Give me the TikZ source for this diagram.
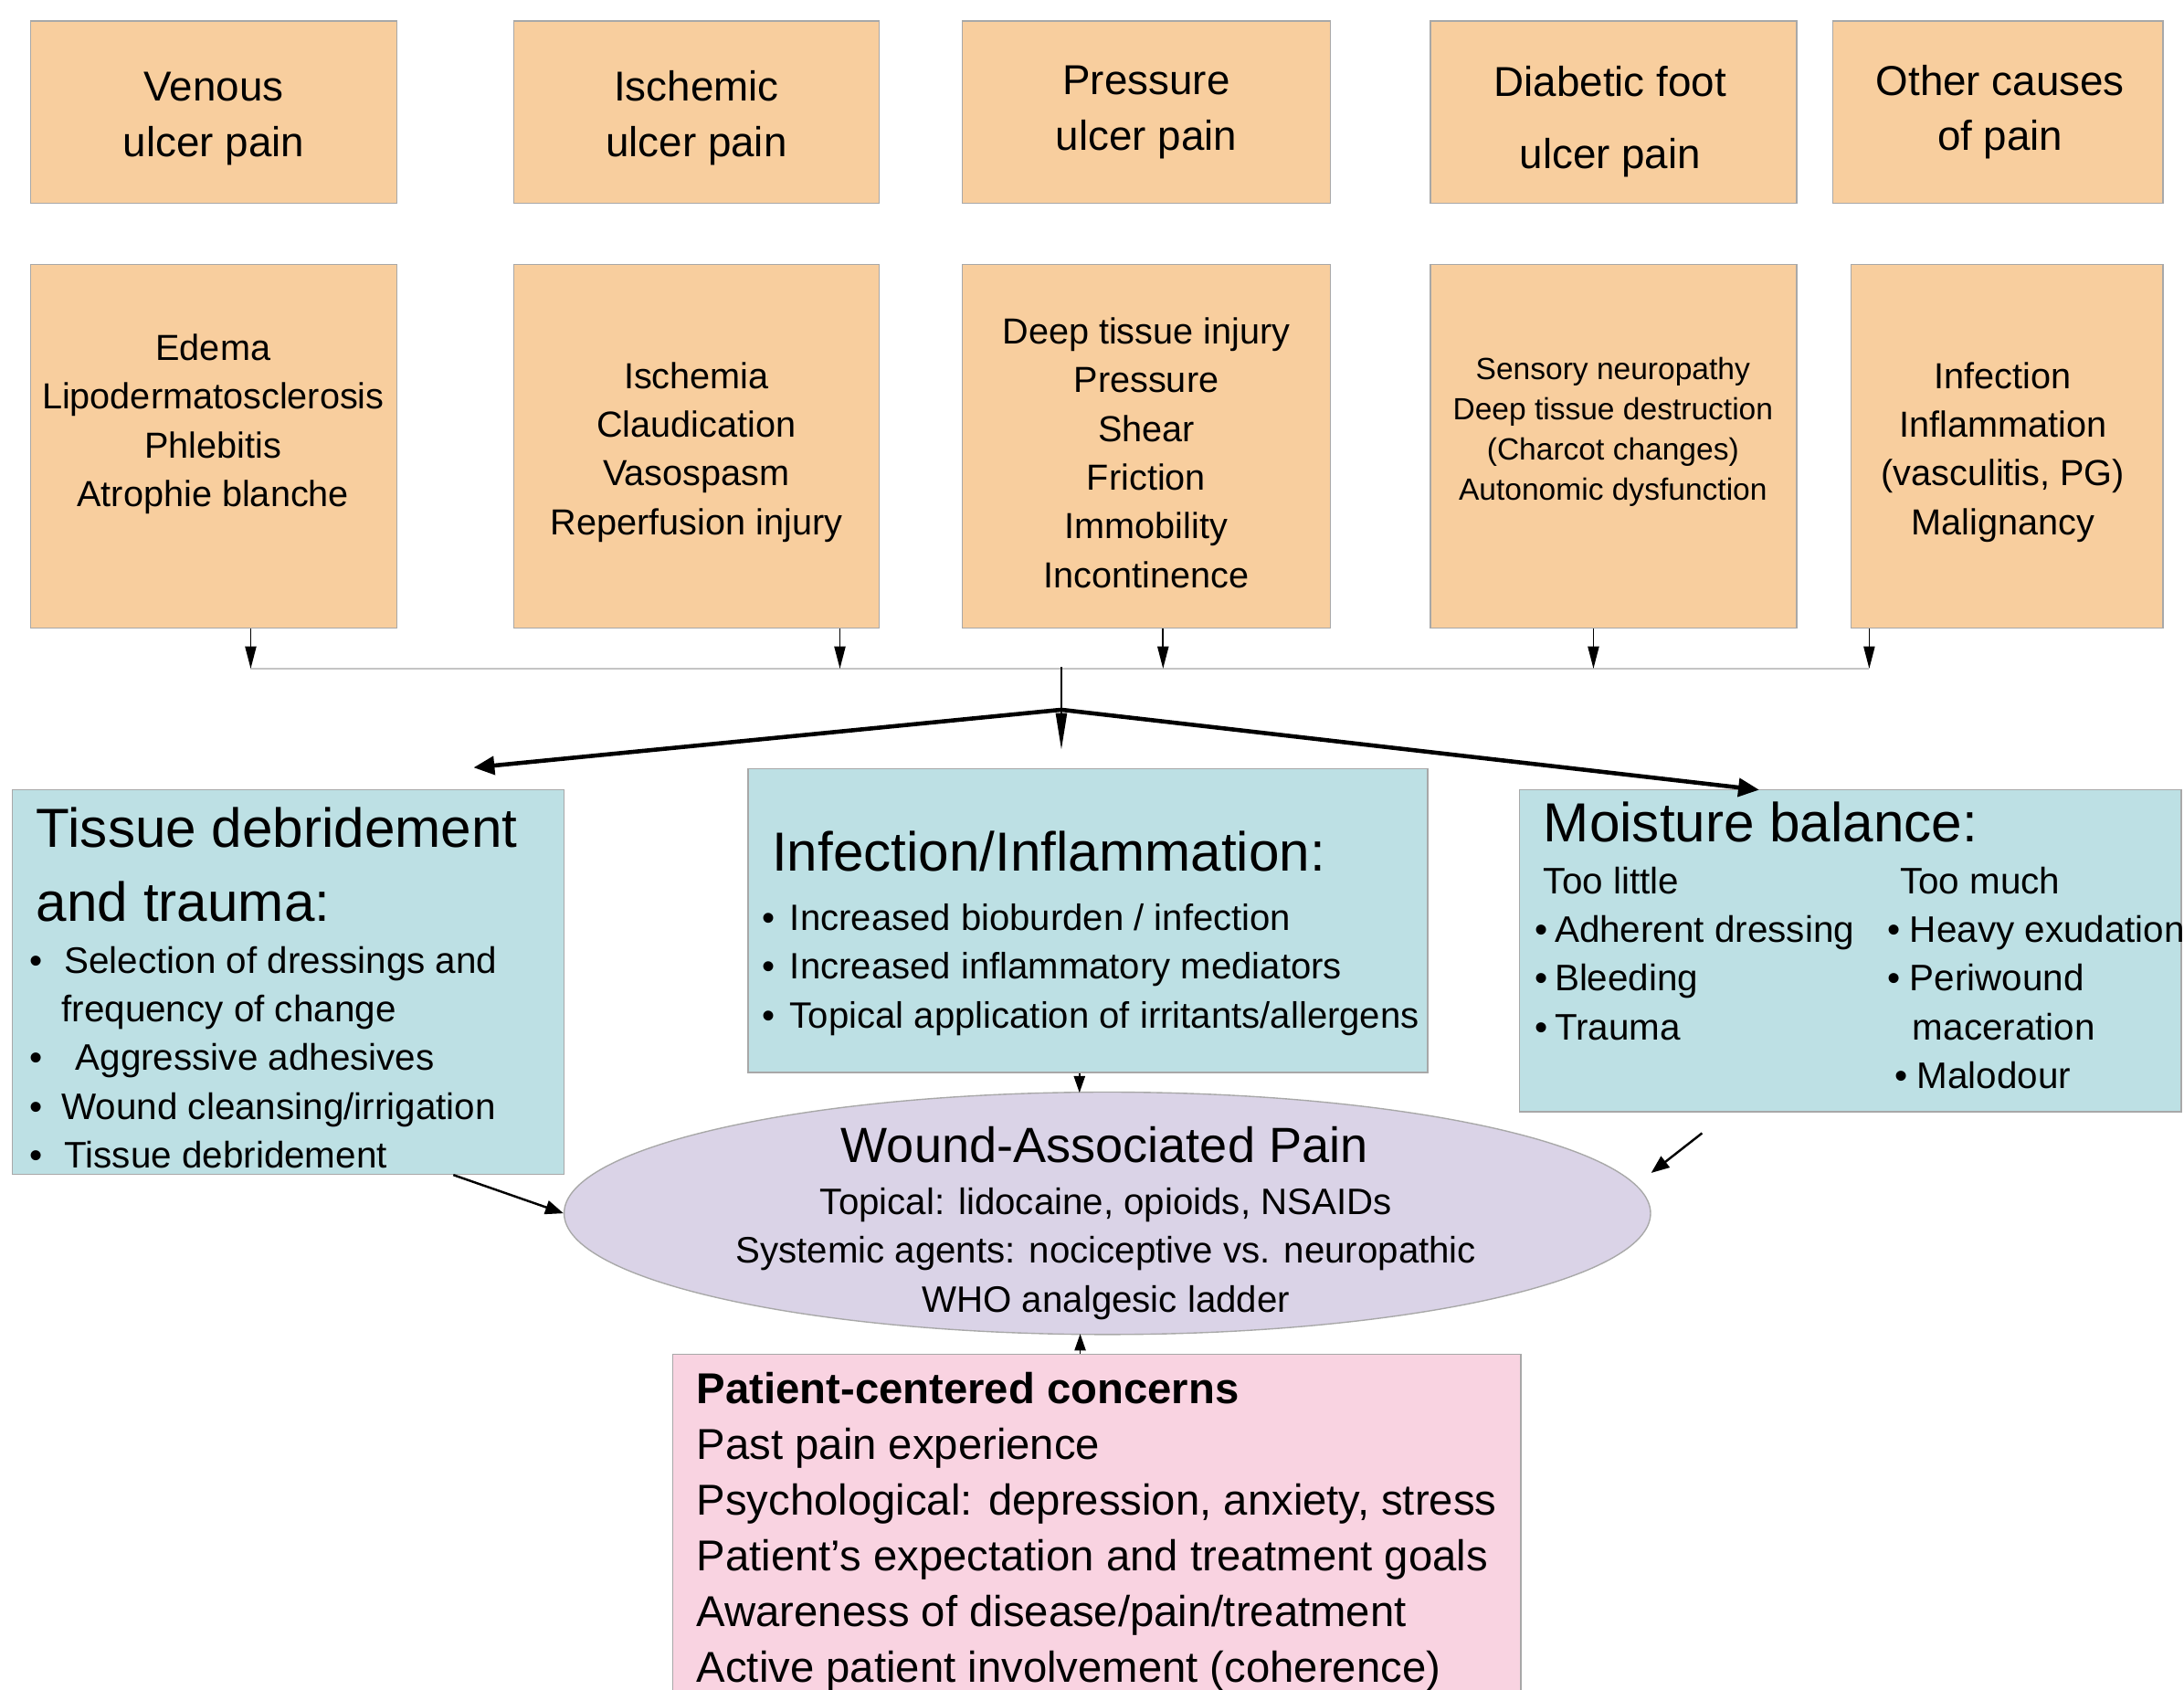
\documentclass[tikz,border=0pt]{standalone}
\usepackage{fontspec}
\setmainfont{Liberation Sans}
\usetikzlibrary{arrows.meta,calc,shapes.geometric}
\definecolor{cOrange}{HTML}{F8CE9E}
\definecolor{cTeal}{HTML}{BDE0E4}
\definecolor{cLav}{HTML}{DAD3E7}
\definecolor{cPink}{HTML}{F9D3E1}
\definecolor{cEdge}{HTML}{A8A8A8}
\definecolor{cBus}{HTML}{C4C4C4}
\newcommand\fsz[2]{\fontsize{#1}{#2}\selectfont}
\newcommand\bul[1]{\makebox[#1][l]{•}}
\begin{document}
\begin{tikzpicture}[x=1pt,y=-1pt,
  box/.style={draw=cEdge,line width=0.9pt,inner sep=0pt,rectangle},
  obox/.style={box,fill=cOrange},
  tbox/.style={box,fill=cTeal},
  txt/.style={inner sep=0pt,align=center},
  ltxt/.style={inner sep=0pt,align=left,anchor=west},
  thinarr/.style={draw=black,line width=1.1pt,-{Triangle[length=16pt,width=8pt]}},
  midarr/.style={draw=black,line width=1.6pt,-{Triangle[length=13pt,width=10pt]}},
  thickarr/.style={draw=black,line width=3pt,-{Triangle[length=15pt,width=13pt]}}]
\clip (0,0) rectangle (1568,1213);
\fill[white] (0,0) rectangle (1568,1213);
% top row
\node[obox,minimum width=263pt,minimum height=131pt] (t1) at (153.5,80.5) {};
\node[obox,minimum width=262pt,minimum height=131pt] (t2) at (500,80.5) {};
\node[obox,minimum width=264pt,minimum height=131pt] (t3) at (823,80.5) {};
\node[obox,minimum width=263pt,minimum height=131pt] (t4) at (1158.5,80.5) {};
\node[obox,minimum width=237pt,minimum height=131pt] (t5) at (1434.5,80.5) {};
\node[txt,font=\fsz{30}{40}] (t1t) at (153.5,85) {Venous\\ulcer pain};
\node[txt,font=\fsz{30}{40}] (t2t) at (500,84.5) {Ischemic\\ulcer pain};
\node[txt,font=\fsz{30}{40}] (t3t) at (823,80.5) {Pressure\\ulcer pain};
\node[txt,font=\fsz{30}{52}] (t4t) at (1156,87.5) {Diabetic foot\\ulcer pain};
\node[txt,font=\fsz{30}{39}] (t5t) at (1436,80.5) {Other causes\\of pain};
% second row
\node[obox,minimum width=263pt,minimum height=261pt] (c1) at (153.5,320.5) {};
\node[obox,minimum width=262pt,minimum height=261pt] (c2) at (500,320.5) {};
\node[obox,minimum width=264pt,minimum height=261pt] (c3) at (823,320.5) {};
\node[obox,minimum width=263pt,minimum height=261pt] (c4) at (1158.5,320.5) {};
\node[obox,minimum width=224pt,minimum height=261pt] (c5) at (1441,320.5) {};
\node[txt,font=\fsz{26}{35}] (c1t) at (153,304.5) {Edema\\Lipodermatosclerosis\\Phlebitis\\Atrophie blanche};
\node[txt,font=\fsz{26}{35}] (c2t) at (500,324.5) {Ischemia\\Claudication\\Vasospasm\\Reperfusion injury};
\node[txt,font=\fsz{26}{35}] (c3t) at (823,325) {Deep tissue injury\\Pressure\\Shear\\Friction\\Immobility\\Incontinence};
\node[txt,font=\fsz{22}{29}] (c4t) at (1158,310) {Sensory neuropathy\\Deep tissue destruction\\(Charcot changes)\\Autonomic dysfunction};
\node[txt,font=\fsz{26}{35}] (c5t) at (1438,324.5) {Infection\\Inflammation\\(vasculitis, PG)\\Malignancy};
% middle boxes
\node[tbox,minimum width=396pt,minimum height=276pt] (m1) at (207,705) {};
\node[ltxt,font=\fsz{39.5}{53}] (m1h) at (26,620.5) {Tissue debridement\\and trauma:};
\node[ltxt,font=\fsz{26.5}{35}] (m1l) at (21,759) {\bul{25pt}Selection of dressings and\\\hspace*{23pt}frequency of change\\\bul{33pt}Aggressive adhesives\\\bul{23pt}Wound cleansing/irrigation\\\bul{25pt}Tissue debridement};
\node[tbox,minimum width=488pt,minimum height=218pt] (m2) at (781,661) {};
\node[ltxt,font=\fsz{39.5}{53}] (m2h) at (554,611) {Infection/Inflammation:};
\node[ltxt,font=\fsz{26.3}{35}] (m2l) at (547,696) {\bul{20pt}Increased bioburden / infection\\\bul{20pt}Increased inflammatory mediators\\\bul{20pt}Topical application of irritants/allergens};
\node[tbox,minimum width=475pt,minimum height=231pt] (m3) at (1328.5,682.5) {};
\node[ltxt,font=\fsz{39.5}{53}] (m3h) at (1108,590) {Moisture balance:};
\node[ltxt,font=\fsz{26.5}{35}] (m3a) at (1102,684.5) {\hspace*{6pt}Too little\\\bul{14pt}Adherent dressing\\\bul{14pt}Bleeding\\\bul{14pt}Trauma};
\node[ltxt,font=\fsz{26.5}{35}] (m3b) at (1355,702) {\hspace*{9pt}Too much\\\bul{16pt}Heavy exudation\\\bul{16pt}Periwound\\\hspace*{18pt}maceration\\\hspace*{5pt}\bul{16pt}Malodour};
% ellipse
\node[ellipse,draw=cEdge,line width=0.9pt,fill=cLav,minimum width=780pt,minimum height=174pt,inner sep=0pt] (w) at (795,871) {};
\node[txt,font=\fsz{35.5}{42}] (wt) at (793,822) {Wound-Associated Pain};
\node[txt,font=\fsz{26.4}{35}] (wl) at (794,900) {Topical: lidocaine, opioids, NSAIDs\\Systemic agents: nociceptive vs. neuropathic\\WHO analgesic ladder};
% patient box
\node[box,fill=cPink,minimum width=609pt,minimum height=280pt] (p) at (787.5,1112) {};
\node[ltxt,font=\fsz{31}{40}] (pt) at (500,1099.5) {\textbf{Patient-centered concerns}\\Past pain experience\\Psychological: depression, anxiety, stress\\Patient’s expectation and treatment goals\\Awareness of disease/pain/treatment\\Active patient involvement (coherence)};
% connectors
\coordinate (b1) at (180,480);
\coordinate (b2) at (603,480);
\coordinate (b3) at (835,480);
\coordinate (b4) at (1144,480);
\coordinate (b5) at (1342,480);
\draw[cBus,line width=1pt] (b1) -- (b5);
\draw[thinarr] (b1 |- c1.south) -- (b1);
\draw[thinarr] (b2 |- c2.south) -- (b2);
\draw[thinarr] (b3 |- c3.south) -- (b3);
\draw[thinarr] (b4 |- c4.south) -- (b4);
\draw[thinarr] (b5 |- c5.south) -- (b5);
\coordinate (j) at (762,479);
\coordinate (k) at (762,509.5);
\coordinate (jt) at (762,538);
\coordinate (la) at (340,551);
\coordinate (ra) at (1263,567);
\draw[thinarr,-{Triangle[length=26pt,width=8pt]}] (j) -- (jt);
\draw[thickarr] (k) -- (la);
\draw[thickarr] (k) -- (ra);
\draw[midarr,line width=1.2pt,-{Triangle[length=12pt,width=8pt]}] ($(m2.south)+(-6,0)$) -- ($(m2.south)+(-6,14)$);
\draw[midarr,line width=1.2pt,-{Triangle[length=12pt,width=8pt]}] ($(p.north)+(-12,0)$) -- ($(p.north)+(-12,-14)$);
\draw[midarr] ($(m1.south east)+(-80,0)$) -- (w.west);
\draw[midarr] ($(m3.south)+(-106.5,15)$) -- ($(w.east)+(0,-29)$);
\end{tikzpicture}
\end{document}
